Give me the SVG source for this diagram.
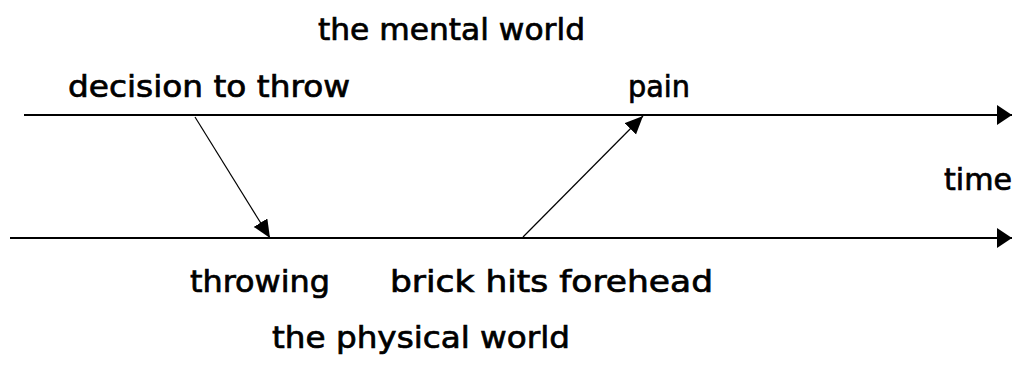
<svg xmlns="http://www.w3.org/2000/svg" width="1013" height="370" viewBox="0 0 1013 370">
  <style>
    .lbl { font-family: "DejaVu Sans", "Liberation Sans", sans-serif; font-size: 30px; fill: #000; stroke: #000; stroke-width: 0.7px; }
    .axis { stroke: #000; stroke-width: 2; fill: none; }
    .conn { stroke: #000; stroke-width: 1.2; fill: none; }
  </style>
  <defs>
    <marker id="axisHead" markerUnits="userSpaceOnUse" markerWidth="18" markerHeight="22" refX="15" refY="10" orient="auto">
      <polygon points="0,0 15,10 0,20" fill="#000"/>
    </marker>
    <marker id="connHead" markerUnits="userSpaceOnUse" markerWidth="20" markerHeight="18" refX="18" refY="8" orient="auto">
      <polygon points="0,0 18,8 0,16" fill="#000"/>
    </marker>
  </defs>
  <rect width="1013" height="370" fill="#fff"/>

  <g id="timelines">
    <line id="mental-line" class="axis" x1="24" y1="115" x2="1012" y2="115" marker-end="url(#axisHead)"/>
    <line id="physical-line" class="axis" x1="10" y1="238" x2="1012" y2="238" marker-end="url(#axisHead)"/>
  </g>

  <g id="connectors">
    <line class="conn" x1="195" y1="117" x2="270" y2="238" marker-end="url(#connHead)"/>
    <line class="conn" x1="523" y1="237" x2="643" y2="116" marker-end="url(#connHead)"/>
  </g>

  <g id="mental-world"><text class="lbl" x="318" y="40" textLength="267" lengthAdjust="spacingAndGlyphs">the mental world</text></g>
  <g id="decision"><text class="lbl" x="68" y="97" textLength="282" lengthAdjust="spacingAndGlyphs">decision to throw</text></g>
  <g id="pain"><text class="lbl" x="628" y="97" textLength="62" lengthAdjust="spacingAndGlyphs">pain</text></g>
  <g id="time"><text class="lbl" x="944" y="190" textLength="68" lengthAdjust="spacingAndGlyphs">time</text></g>
  <g id="throwing"><text class="lbl" x="190" y="292" textLength="140" lengthAdjust="spacingAndGlyphs">throwing</text></g>
  <g id="brick"><text class="lbl" x="390" y="292" textLength="323" lengthAdjust="spacingAndGlyphs">brick hits forehead</text></g>
  <g id="physical-world"><text class="lbl" x="272" y="348" textLength="298" lengthAdjust="spacingAndGlyphs">the physical world</text></g>
</svg>
